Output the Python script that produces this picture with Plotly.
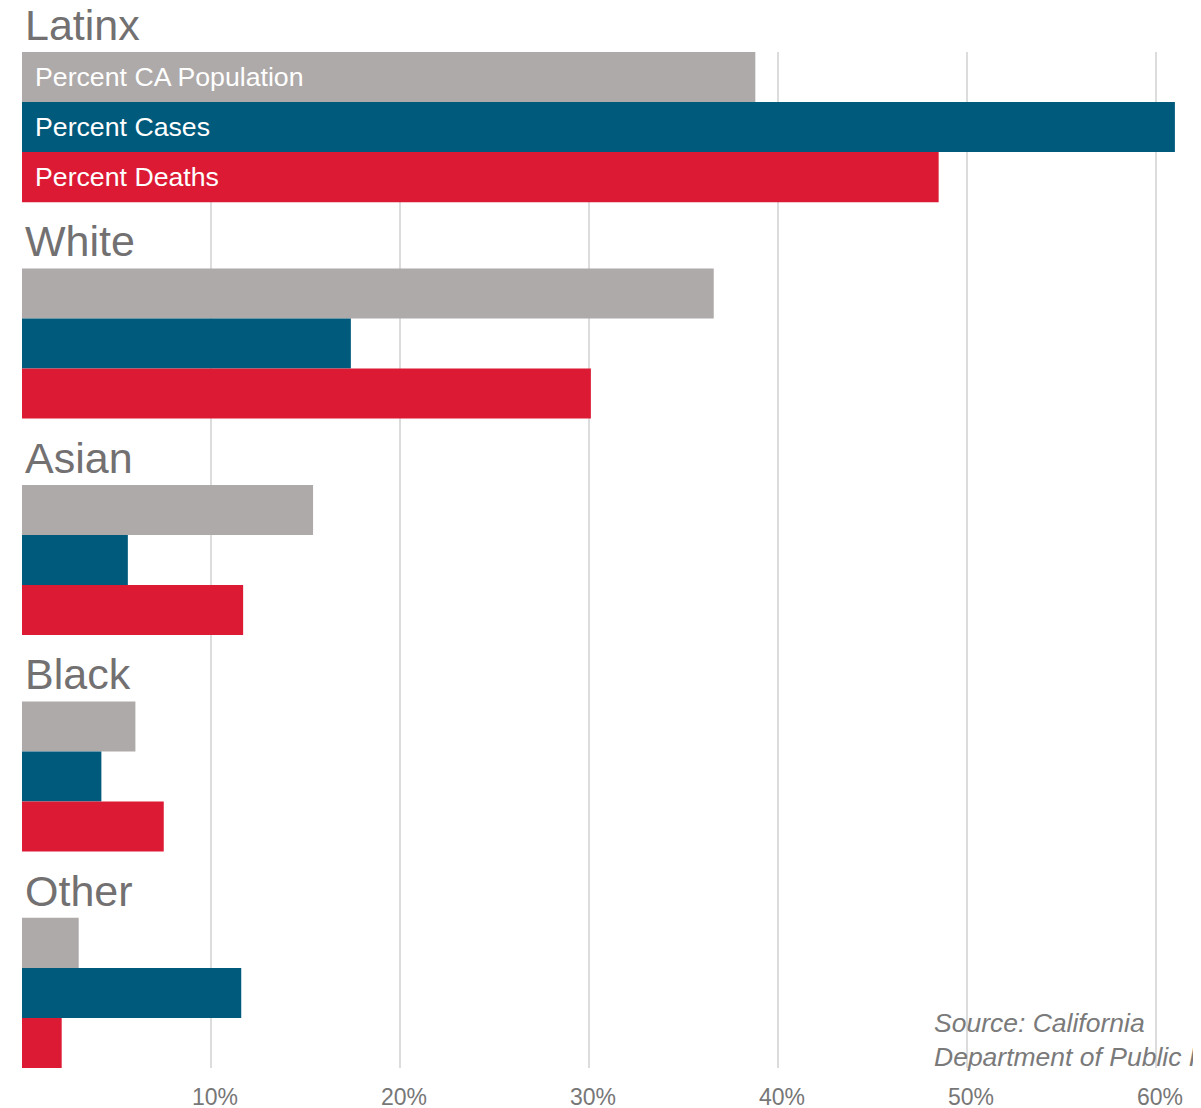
import plotly.graph_objects as go

groups = ["Latinx", "White", "Asian", "Black", "Other"]
series_names = ["Percent CA Population", "Percent Cases", "Percent Deaths"]
pct_population = [38.8, 36.6, 15.4, 6.0, 3.0]
pct_cases = [61.0, 17.4, 5.6, 4.2, 11.6]
pct_deaths = [48.5, 30.1, 11.7, 7.5, 2.1]
tick_values = [10, 20, 30, 40, 50, 60]
tick_labels = ["10%", "20%", "30%", "40%", "50%", "60%"]
source_text = "Source: California<br>Department of Public Health"

colors = ["#aeaaa9", "#005a7c", "#dc1a33"]
FONT = "Arial, 'Liberation Sans', sans-serif"

GAP = 1.325          # space for group title, in bar-height units
PITCH = 3 + GAP
TOTAL = 5 * 3 + 4 * GAP
PX_PER_PCT = 18.9
L_MARGIN = 14

fig = go.Figure()
for k, (name, vals) in enumerate(zip(series_names, [pct_population, pct_cases, pct_deaths])):
    ys = [g * PITCH + k + 0.5 for g in range(len(groups))]
    fig.add_trace(go.Bar(
        x=vals, y=ys, orientation="h", width=1.0, name=name,
        marker=dict(color=colors[k], line=dict(width=0)),
        showlegend=False, hoverinfo="x+name",
    ))

annotations = []
for g, grp in enumerate(groups):
    annotations.append(dict(
        x=0, y=g * PITCH, xref="x", yref="y", text=grp, showarrow=False,
        xanchor="left", yanchor="bottom", xshift=1, yshift=1,
        font=dict(family=FONT, size=43, color="#727071"),
    ))
for k, name in enumerate(series_names):
    annotations.append(dict(
        x=0, y=k + 0.5, xref="x", yref="y", text=name, showarrow=False,
        xanchor="left", yanchor="middle", xshift=11,
        font=dict(family=FONT, size=26.7, color="white"),
    ))
annotations.append(dict(
    x=(924 - L_MARGIN) / PX_PER_PCT, y=TOTAL, xref="x", yref="y", text=source_text,
    showarrow=False, xanchor="left", yanchor="bottom", align="left", yshift=-6,
    font=dict(family=FONT, size=26.5, color="#7a7a7a", style="italic"),
))

fig.update_layout(
    width=1201, height=1108,
    margin=dict(l=L_MARGIN, r=0, t=44, b=48),
    plot_bgcolor="white", paper_bgcolor="white",
    barmode="overlay",
    annotations=annotations,
    xaxis=dict(
        range=[0, (1201 - L_MARGIN) / PX_PER_PCT], tickvals=tick_values, ticktext=tick_labels,
        showgrid=True, gridcolor="#dcdcdc", gridwidth=2, zeroline=False,
        showline=False, ticks="", ticklabelshift=4, ticklabelstandoff=13,
        tickfont=dict(family=FONT, size=23, color="#777777"),
        fixedrange=True,
    ),
    yaxis=dict(
        range=[TOTAL, 0], showgrid=False, zeroline=False, showticklabels=False,
        showline=False, fixedrange=True,
    ),
)

fig.write_html("out.html")
